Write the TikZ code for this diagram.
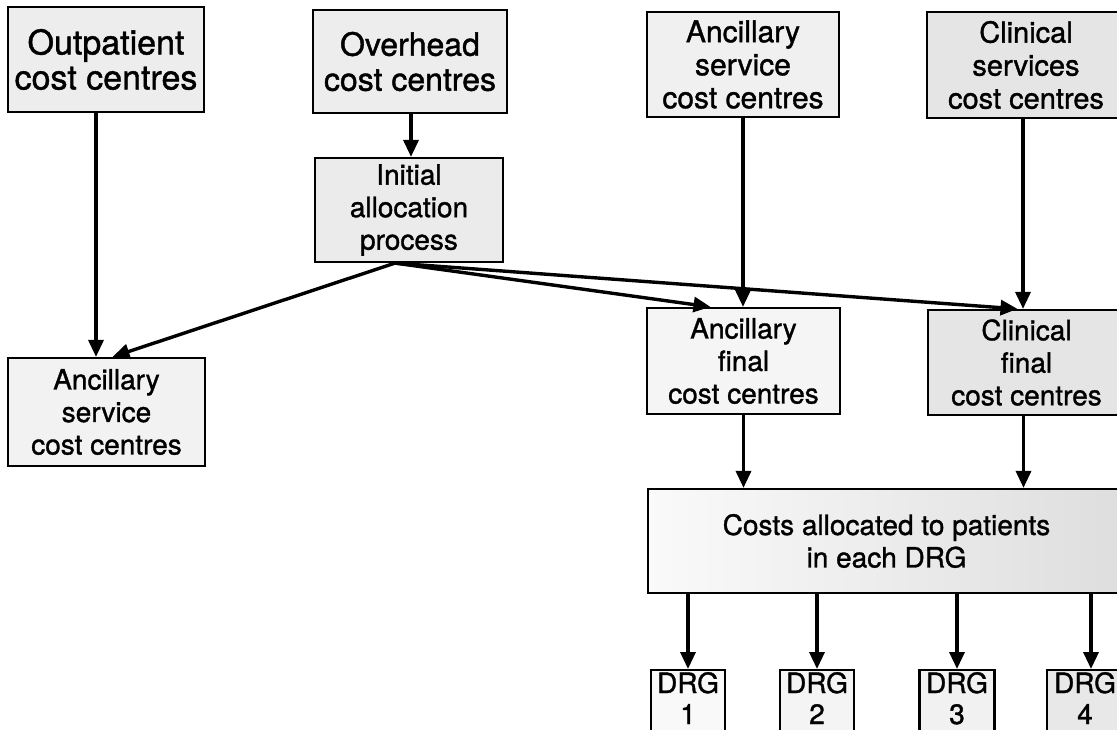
\documentclass[tikz,border=0pt]{standalone}
\usepackage{fontspec}
\setmainfont{TeX Gyre Heros}[FakeBold=1.2]
\usetikzlibrary{arrows.meta}

\tikzset{
  box/.style={draw, line width=2.2pt, align=center, inner sep=0pt,
    font=\fontsize{28}{32.5}\selectfont},
  arr/.style={line width=3.4pt, -{Triangle[length=17pt,width=15pt]}},
}

\begin{document}
\begin{tikzpicture}[x=1pt,y=-1pt]
\useasboundingbox (0,0) rectangle (1117,730);
\clip (0,0) rectangle (1117,730);
\fill[white] (0,0) rectangle (1117,730);

% top row of cost centres
\node[box, fill=gray!14, minimum width=196pt, minimum height=105pt,
  font=\fontsize{34}{35}\selectfont] (out) at (106,59.5) {Outpatient\\cost centres};
\node[box, fill=gray!14, minimum width=194pt, minimum height=103pt,
  font=\fontsize{32}{35}\selectfont] (ovh) at (410,61.5) {Overhead\\cost centres};
\node[box, fill=gray!12, minimum width=192pt, minimum height=105pt,
  font=\fontsize{30}{33}\selectfont] (anct) at (743,64.5) {Ancillary\\service\\cost centres};
\node[box, fill=gray!20, minimum width=198pt, minimum height=106pt,
  font=\fontsize{29}{33}\selectfont] (clint) at (1026,65) {Clinical\\services\\cost centres};

% allocation step
\node[box, fill=gray!16, minimum width=188pt, minimum height=104pt] (init) at (409,210)
  {Initial\\allocation\\process};
\coordinate (isrc) at ([xshift=-14pt]init.south);

% receiving cost centres
\node[box, fill=gray!10, minimum width=197pt, minimum height=108pt] (lanc) at (106.5,412)
  {Ancillary\\service\\cost centres};
\node[box, fill=gray!8, minimum width=193pt, minimum height=106pt] (ancf) at (743.5,361)
  {Ancillary\\final\\cost centres};
\node[box, fill=gray!20, minimum width=197pt, minimum height=105pt] (clinf) at (1026.5,362.5)
  {Clinical\\final\\cost centres};

% patient allocation
\node[box, left color=gray!4, right color=gray!26, minimum width=477pt, minimum height=104pt]
  (costs) at (886.5,541) {Costs allocated to patients\\in each DRG};

% DRG groups
\tikzset{drg/.style={box, anchor=north, inner ysep=2pt, text depth=40pt,
  font=\fontsize{28}{31}\selectfont}}
\node[drg, fill=gray!5, minimum width=74pt] (d1) at (688,669) {DRG\\1};
\node[drg, fill=gray!9, minimum width=74pt] (d2) at (817,669) {DRG\\2};
\node[drg, fill=gray!11, minimum width=75pt] (d3) at (957,669) {DRG\\3};
\node[drg, fill=gray!18, minimum width=76pt] (d4) at (1085,669) {DRG\\4};

% connectors
\draw[arr] ([xshift=-10pt]out.south) -- ([xshift=-10pt]out.south |- lanc.north);
\draw[arr] ([xshift=1pt]ovh.south) -- ([xshift=1pt]ovh.south |- init.north);
\draw[arr] (isrc) -- ([xshift=6pt]lanc.north);
\draw[arr] (isrc) -- ([xshift=-33pt]ancf.north);
\draw[arr] (isrc) -- ([xshift=-9pt]clinf.north);
\draw[arr] (anct.south) -- (anct.south |- ancf.north);
\draw[arr] ([xshift=-3pt]clint.south) -- ([xshift=-3pt]clint.south |- clinf.north);
\draw[arr] (ancf.south) -- (ancf.south |- costs.north);
\draw[arr] ([xshift=-3pt]clinf.south) -- ([xshift=-3pt]clinf.south |- costs.north);
\draw[arr] (costs.south -| d1.north) -- (d1.north);
\draw[arr] (costs.south -| d2.north) -- (d2.north);
\draw[arr] (costs.south -| d3.north) -- (d3.north);
\draw[arr] ([xshift=6pt]costs.south -| d4.north) -- ([xshift=6pt]d4.north);
\end{tikzpicture}
\end{document}
